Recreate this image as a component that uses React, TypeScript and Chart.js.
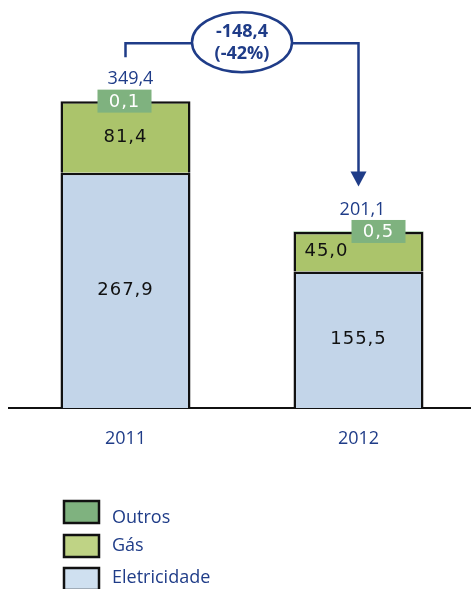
import React, { useEffect, useRef } from "react";
import { Chart, registerables } from "chart.js";
Chart.register(...registerables);

const categories = ["2011", "2012"];
const eletricidade = [267.9, 155.5];
const gas = [81.4, 45.0];
const outros = [0.1, 0.5];
const totals = [349.4, 201.1];
const variationLines = ["-148,4", "(-42%)"];
const legendItems = ["Outros", "Gás", "Eletricidade"];

const NAVY = "#1f3c88";
const ELEC = "#c3d5e9";
const GAS = "#abc46b";
const OUT = "#7fb27f";
const LEG_GAS = "#bfd385";
const LEG_ELEC = "#cfe0f0";

const fmt = (v: number) => v.toFixed(1).replace(".", ",");

const labelsPlugin = {
  id: "customLabels",
  afterDatasetsDraw(chart: any) {
    const ctx = chart.ctx;
    const mElec = chart.getDatasetMeta(0);
    const mGas = chart.getDatasetMeta(1);
    const mOut = chart.getDatasetMeta(2);
    const gasDx = [0, -32];
    const outDx = [-1, 20];
    const totDx = [5, 4];
    ctx.save();
    for (let i = 0; i < categories.length; i++) {
      const e = mElec.data[i];
      const g = mGas.data[i];
      const o = mOut.data[i];
      ctx.font = "18px 'DejaVu Sans'";
      (ctx as any).letterSpacing = "1px";
      ctx.fillStyle = "#111";
      ctx.textAlign = "center";
      ctx.textBaseline = "middle";
      ctx.fillText(fmt(eletricidade[i]), e.x, (e.y + e.base) / 2);
      ctx.fillText(fmt(gas[i]), g.x + gasDx[i], (g.y + g.base) / 2);
      // outros box
      const bw = 54, bh = 23;
      const bx = o.x + outDx[i];
      ctx.fillStyle = OUT;
      ctx.fillRect(bx - bw / 2, o.y - bh / 2, bw, bh);
      ctx.fillStyle = "#fff";
      ctx.fillText(fmt(outros[i]), bx, o.y + 1);
      // totals
      (ctx as any).letterSpacing = "0px";
      ctx.font = "18px 'Open Sans'";
      ctx.fillStyle = NAVY;
      ctx.fillText(fmt(totals[i]), o.x + totDx[i], o.y - 22);
    }
    // arrow
    const o0 = mOut.data[0];
    const o1 = mOut.data[1];
    const x0 = o0.x, x1 = o1.x;
    const hY = o0.y - 58;
    const tipY = o1.y - 45;
    ctx.strokeStyle = NAVY;
    ctx.lineWidth = 2.5;
    ctx.beginPath();
    ctx.moveTo(x0, o0.y - 44);
    ctx.lineTo(x0, hY);
    ctx.lineTo(x1, hY);
    ctx.lineTo(x1, tipY - 14);
    ctx.stroke();
    ctx.fillStyle = NAVY;
    ctx.beginPath();
    ctx.moveTo(x1 - 8, tipY - 15);
    ctx.lineTo(x1 + 8, tipY - 15);
    ctx.lineTo(x1, tipY);
    ctx.closePath();
    ctx.fill();
    // ellipse
    const cx = (x0 + x1) / 2, cy = hY - 1;
    ctx.beginPath();
    ctx.ellipse(cx, cy, 50, 30, 0, 0, Math.PI * 2);
    ctx.fillStyle = "#fff";
    ctx.fill();
    ctx.lineWidth = 2.5;
    ctx.stroke();
    ctx.fillStyle = NAVY;
    ctx.font = "bold 18px 'Open Sans'";
    ctx.textAlign = "center";
    ctx.textBaseline = "middle";
    ctx.fillText(variationLines[0], cx, cy - 10);
    ctx.fillText(variationLines[1], cx, cy + 12);
    ctx.restore();
  },
  afterDraw(chart: any) {
    const ctx = chart.ctx;
    const fills = [OUT, LEG_GAS, LEG_ELEC];
    const tops = [501, 535, 568];
    const textY = [518, 546, 578];
    ctx.save();
    for (let i = 0; i < legendItems.length; i++) {
      ctx.fillStyle = fills[i];
      ctx.fillRect(64, tops[i], 35, 22);
      ctx.strokeStyle = "#111";
      ctx.lineWidth = 2.5;
      ctx.strokeRect(64, tops[i], 35, 22);
      ctx.fillStyle = NAVY;
      ctx.font = "18px 'Open Sans'";
      ctx.textAlign = "left";
      ctx.textBaseline = "middle";
      ctx.fillText(legendItems[i], 112, textY[i]);
    }
    ctx.restore();
  },
};

export default function App() {
  const ref = useRef<HTMLCanvasElement>(null);
  useEffect(() => {
    if (!ref.current) return;
    const chart = new Chart(ref.current, {
      type: "bar",
      data: {
        labels: categories,
        datasets: [
          { label: "Eletricidade", data: eletricidade, backgroundColor: ELEC, borderColor: "#111", borderWidth: 2.5, categoryPercentage: 1, barPercentage: 0.558 },
          { label: "Gás", data: gas, backgroundColor: GAS, borderColor: "#111", borderWidth: 2.5, categoryPercentage: 1, barPercentage: 0.558 },
          { label: "Outros", data: outros, backgroundColor: OUT, borderWidth: 0, categoryPercentage: 1, barPercentage: 0.558 },
        ],
      },
      options: {
        animation: false,
        responsive: false,
        maintainAspectRatio: false,
        layout: { padding: { top: 4, left: 9, right: 1, bottom: 121 } },
        plugins: { legend: { display: false }, tooltip: { enabled: false } },
        scales: {
          x: {
            stacked: true,
            grid: { display: false, drawTicks: false },
            border: { display: true, color: "#111", width: 2 },
            ticks: { color: NAVY, font: { family: "Open Sans", size: 18 }, padding: 20 },
            afterFit: (s: any) => { s.height = 60; },
          },
          y: { stacked: true, display: false, min: 0, max: 460 },
        },
      },
      plugins: [labelsPlugin],
    } as any);
    return () => chart.destroy();
  }, []);
  return (
    <div style={{ position: "absolute", left: 0, top: 0, width: 471, height: 589, overflow: "hidden", background: "#fff" }}>
      <canvas ref={ref} width={476} height={589} style={{ display: "block" }} />
    </div>
  );
}
